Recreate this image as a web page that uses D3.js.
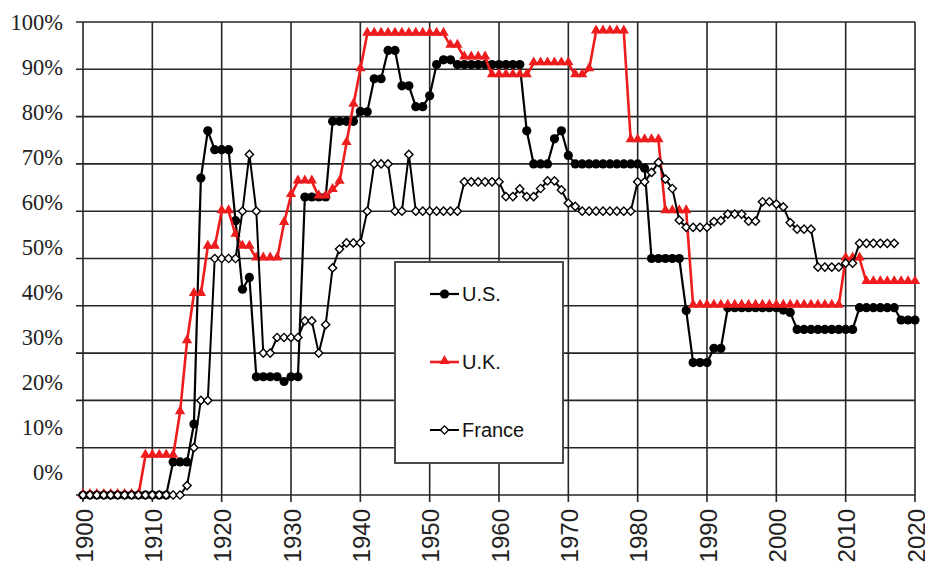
<!DOCTYPE html>
<html>
<head>
<meta charset="utf-8">
<script src="https://cdn.jsdelivr.net/npm/d3@7"></script>
<style>
    body { margin: 0; background: #fff; }
    .grid line { stroke: #262626; stroke-width: 1.6; }
    .yLabel { font-family: "Liberation Serif", "Times New Roman", serif; font-size: 22.5px; fill: #222; }
    .xLabel { font-family: "Liberation Sans", Arial, sans-serif; font-size: 24px; fill: #222; }
    .legendText { font-family: "Liberation Sans", Arial, sans-serif; font-size: 20px; fill: #111; }
</style>
</head>
<body>
<svg id="chart" width="925" height="569"></svg>
<script>

/** Top marginal income tax rates, one value per year */
var firstYear = 1900;

var usRates = [
    0, 0, 0, 0, 0, 0, 0, 0, 0, 0,            // 1900-1909
    0, 0, 0, 7, 7, 7, 15, 67, 77, 73,        // 1910-1919
    73, 73, 58, 43.5, 46, 25, 25, 25, 25, 24, // 1920-1929
    25, 25, 63, 63, 63, 63, 79, 79, 79, 79,  // 1930-1939
    81.1, 81, 88, 88, 94, 94, 86.5, 86.5, 82.1, 82.1, // 1940-1949
    84.4, 91, 92, 92, 91, 91, 91, 91, 91, 91, // 1950-1959
    91, 91, 91, 91, 77, 70, 70, 70, 75.3, 77, // 1960-1969
    71.8, 70, 70, 70, 70, 70, 70, 70, 70, 70, // 1970-1979
    70, 69.1, 50, 50, 50, 50, 50, 39, 28, 28, // 1980-1989
    28, 31, 31, 39.6, 39.6, 39.6, 39.6, 39.6, 39.6, 39.6, // 1990-1999
    39.6, 39.1, 38.6, 35, 35, 35, 35, 35, 35, 35, // 2000-2009
    35, 35, 39.6, 39.6, 39.6, 39.6, 39.6, 39.6, 37, 37, // 2010-2019
    37                                        // 2020
];

var ukRates = [
    0, 0, 0, 0, 0, 0, 0, 0, 0, 8.3,          // 1900-1909
    8.3, 8.3, 8.3, 8.3, 17.5, 32.5, 42.5, 42.5, 52.5, 52.5, // 1910-1919
    60, 60, 55, 52.5, 52.5, 50, 50, 50, 50, 57.5, // 1920-1929
    63.4, 66.3, 66.3, 66.3, 63.1, 63.1, 64.5, 66.2, 74.4, 82.5, // 1930-1939
    90, 97.5, 97.5, 97.5, 97.5, 97.5, 97.5, 97.5, 97.5, 97.5, // 1940-1949
    97.5, 97.5, 97.5, 95, 95, 92.5, 92.5, 92.5, 92.5, 88.75, // 1950-1959
    88.75, 88.75, 88.75, 88.75, 88.75, 91.25, 91.25, 91.25, 91.25, 91.25, // 1960-1969
    91.25, 88.75, 88.75, 90, 98, 98, 98, 98, 98, 75, // 1970-1979
    75, 75, 75, 75, 60, 60, 60, 60, 40, 40,  // 1980-1989
    40, 40, 40, 40, 40, 40, 40, 40, 40, 40,  // 1990-1999
    40, 40, 40, 40, 40, 40, 40, 40, 40, 40,  // 2000-2009
    50, 50, 50, 45, 45, 45, 45, 45, 45, 45,  // 2010-2019
    45                                        // 2020
];

var franceRates = [
    0, 0, 0, 0, 0, 0, 0, 0, 0, 0,            // 1900-1909
    0, 0, 0, 0, 0, 2, 10, 20, 20, 50,        // 1910-1919
    50, 50, 50, 60, 72, 60, 30, 30, 33.3, 33.3, // 1920-1929
    33.3, 33.3, 36.8, 36.8, 30, 36, 48, 52, 53.3, 53.3, // 1930-1939
    53.3, 60, 70, 70, 70, 60, 60, 72, 60, 60, // 1940-1949
    60, 60, 60, 60, 60, 66.2, 66.2, 66.2, 66.2, 66.2, // 1950-1959
    66.2, 63.1, 63.1, 64.7, 63.1, 63.1, 64.8, 66.4, 66.4, 64.5, // 1960-1969
    61.7, 61, 60, 60, 60, 60, 60, 60, 60, 60, // 1970-1979
    66.2, 66.2, 68.2, 70.3, 66.8, 64.8, 58.1, 56.6, 56.6, 56.6, // 1980-1989
    56.6, 57.8, 58, 59.4, 59.4, 59.4, 57.9, 57.9, 62, 62, // 1990-1999
    61.5, 60.9, 57.6, 56.2, 56.2, 56.2, 48.2, 48.2, 48.2, 48.2, // 2000-2009
    49, 49, 53.2, 53.2, 53.2, 53.2, 53.2, 53.2 // 2010-2017
];

/** Axis ticks and labels */
var yearTicks = [1900, 1910, 1920, 1930, 1940, 1950, 1960, 1970, 1980, 1990, 2000, 2010, 2020];
var rateTicks = [0, 10, 20, 30, 40, 50, 60, 70, 80, 90, 100];

/** Legend entries */
var seriesNames = ['U.S.', 'U.K.', 'France'];

/** Layout of the plot area */
var plotLeft = 83,
    plotRight = 915,
    plotTop = 22,
    plotBottom = 495,
    tickLength = 7;

var xScale = d3.scaleLinear()
    .domain([1900, 2020])
    .range([plotLeft, plotRight]);

var yScale = d3.scaleLinear()
    .domain([0, 100])
    .range([plotBottom, plotTop]);

/** The percent labels in the picture sit on a slightly tighter spacing than the grid */
var yLabelScale = d3.scaleLinear()
    .domain([0, 100])
    .range([472, 22]);

var svg = d3.select('#chart');

/** turn a rates array into [year, value] points */
function toPoints(rates) {
    return rates.map(function (v, i) {
        return {year: firstYear + i, value: v};
    });
}

var series = [
    {name: seriesNames[0], points: toPoints(usRates), color: '#000', width: 2.2, marker: 'dot'},
    {name: seriesNames[1], points: toPoints(ukRates), color: '#ee1c1c', width: 2.6, marker: 'triangle'},
    {name: seriesNames[2], points: toPoints(franceRates), color: '#000', width: 2, marker: 'diamond'}
];

// grid lines
var grid = svg.append('g').attr('class', 'grid');

grid.selectAll('line.h').data(rateTicks)
    .enter()
    .append('line')
    .attr('class', 'h')
    .attr('x1', plotLeft - tickLength)
    .attr('x2', plotRight)
    .attr('y1', function (d) { return yScale(d); })
    .attr('y2', function (d) { return yScale(d); });

grid.selectAll('line.v').data(yearTicks)
    .enter()
    .append('line')
    .attr('class', 'v')
    .attr('y1', plotTop)
    .attr('y2', plotBottom + tickLength)
    .attr('x1', function (d) { return xScale(d); })
    .attr('x2', function (d) { return xScale(d); });

// y labels
svg.append('g').selectAll('text').data(rateTicks)
    .enter()
    .append('text')
    .attr('class', 'yLabel')
    .attr('x', 63)
    .attr('y', function (d) { return yLabelScale(d); })
    .attr('dy', '0.35em')
    .attr('text-anchor', 'end')
    .text(function (d) { return d + '%'; });

// x labels, rotated
svg.append('g').selectAll('text').data(yearTicks)
    .enter()
    .append('text')
    .attr('class', 'xLabel')
    .attr('transform', function (d) {
        return 'translate(' + (xScale(d) + 1) + ',' + 509 + ') rotate(-90)';
    })
    .attr('dy', '0.36em')
    .attr('text-anchor', 'end')
    .text(function (d) { return d; });

var line = d3.line()
    .x(function (d) { return xScale(d.year); })
    .y(function (d) { return yScale(d.value); });

/** draws one marker of the given kind into a selection */
function drawMarkers(sel, kind, color) {
    if (kind == 'dot') {
        sel.append('circle')
            .attr('r', 4.6)
            .style('fill', color);
    } else if (kind == 'triangle') {
        sel.append('path')
            .attr('d', d3.symbol().type(d3.symbolTriangle).size(46))
            .attr('transform', 'translate(0,-1)')
            .style('fill', color);
    } else {
        sel.append('path')
            .attr('d', d3.symbol().type(d3.symbolSquare).size(34))
            .attr('transform', 'rotate(45)')
            .style('fill', '#fff')
            .style('stroke', color)
            .style('stroke-width', 1.4);
    }
}

// series lines and markers
series.forEach(function (s) {
    var g = svg.append('g');

    g.append('path')
        .datum(s.points)
        .attr('d', line)
        .style('fill', 'none')
        .style('stroke', s.color)
        .style('stroke-width', s.width)
        .style('stroke-linejoin', 'round');

    var marks = g.selectAll('g.mark').data(s.points)
        .enter()
        .append('g')
        .attr('class', 'mark')
        .attr('transform', function (d) {
            return 'translate(' + xScale(d.year) + ',' + yScale(d.value) + ')';
        });

    drawMarkers(marks, s.marker, s.color);
});

// legend
var legend = svg.append('g');

legend.append('rect')
    .attr('x', 395)
    .attr('y', 262)
    .attr('width', 168)
    .attr('height', 201)
    .style('fill', '#fff')
    .style('stroke', '#4a4a4a')
    .style('stroke-width', 2);

var legendY = d3.scalePoint()
    .domain(seriesNames)
    .range([294, 430]);

series.forEach(function (s) {
    var item = legend.append('g')
        .attr('transform', 'translate(0,' + legendY(s.name) + ')');

    item.append('line')
        .attr('x1', 430)
        .attr('x2', 459)
        .style('stroke', s.color)
        .style('stroke-width', s.width);

    var m = item.append('g').attr('transform', 'translate(444.5,0)');
    drawMarkers(m, s.marker, s.color);

    item.append('text')
        .attr('class', 'legendText')
        .attr('x', 462)
        .attr('dy', '0.36em')
        .text(s.name);
});

</script>
</body>
</html>
